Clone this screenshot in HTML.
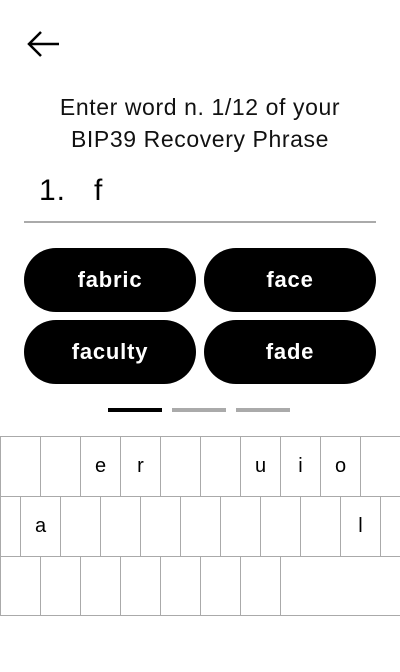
<!DOCTYPE html>
<html><head><style>
body{margin:0;width:400px;height:672px;background:#fff;position:relative;font-family:"Liberation Sans",sans-serif;overflow:hidden}
.t{position:absolute;left:0;width:400px;text-align:center;font-size:23px;letter-spacing:0.6px;color:#111}
.b{position:absolute;width:172px;height:64px;border-radius:32px;background:#000;color:#fff;font-size:22px;letter-spacing:0.8px;font-weight:bold;display:flex;align-items:center;justify-content:center}
.k{position:absolute;width:40px;height:60px;box-sizing:border-box;border-left:1px solid #aaa;border-top:1px solid #aaa;font-size:20px;display:flex;align-items:center;justify-content:center;color:#000}
.d{position:absolute;top:408px;height:4px;width:54px;background:#aaa}
</style></head><body>
<svg style="position:absolute;left:26px;top:30px" width="36" height="30"><path d="M3 14 H33 M15 2 L3 14 L15 26" stroke="#000" stroke-width="2.5" fill="none"/></svg>
<div class="t" style="top:94px">Enter word n. 1/12 of your</div>
<div class="t" style="top:126px">BIP39 Recovery Phrase</div>
<div style="position:absolute;left:39px;top:174px;font-size:30px;letter-spacing:1px">1.&nbsp;&nbsp;&nbsp;f</div>
<div style="position:absolute;left:24px;top:221px;width:352px;height:2px;background:#aaa"></div>
<div class="b" style="left:24px;top:248px">fabric</div>
<div class="b" style="left:204px;top:248px">face</div>
<div class="b" style="left:24px;top:320px">faculty</div>
<div class="b" style="left:204px;top:320px">fade</div>
<div class="d" style="left:108px;background:#000"></div>
<div class="d" style="left:172px"></div>
<div class="d" style="left:236px"></div>
<div id="kb"></div>
<div style="position:absolute;left:0;top:615px;width:400px;height:1px;background:#aaa"></div>
<script>
var h='';
var r1=['','','e','r','','','u','i','o',''];
for(var i=0;i<10;i++)h+='<div class="k" style="left:'+(i*40)+'px;top:436px">'+r1[i]+'</div>';
h+='<div class="k" style="left:0;top:496px;width:20px"></div>';
var r2=['a','','','','','','','','l'];
for(var i=0;i<9;i++)h+='<div class="k" style="left:'+(20+i*40)+'px;top:496px">'+r2[i]+'</div>';
h+='<div class="k" style="left:380px;top:496px;width:20px"></div>';
for(var i=0;i<7;i++)h+='<div class="k" style="left:'+(i*40)+'px;top:556px"></div>';
h+='<div class="k" style="left:280px;top:556px;width:120px"></div>';
document.getElementById('kb').innerHTML=h;
</script>
</body></html>
